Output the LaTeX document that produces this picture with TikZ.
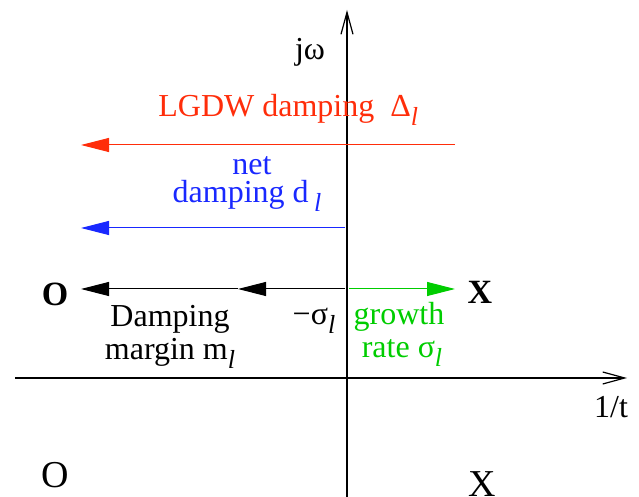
\documentclass[tikz,border=0pt]{standalone}
\usepackage{fontspec}
\setmainfont{Liberation Serif}
\definecolor{lgdwred}{RGB}{255,45,10}
\definecolor{netblue}{RGB}{25,40,255}
\definecolor{growgreen}{RGB}{0,205,0}
\usetikzlibrary{arrows.meta}
\newcommand{\lsub}{\raisebox{-0.55ex}{\fontsize{13}{13}\selectfont\itshape l}}

\begin{document}
\begin{tikzpicture}[x=0.5pt,y=-0.5pt,
  lbl/.style={font=\fontsize{16}{17}\selectfont,inner sep=0pt,anchor=base},
  vec/.style={-{Triangle[length=14pt,width=7pt]},line width=0.5pt},
  axis/.style={-{Straight Barb[length=11pt,width=6pt]},line width=0.6pt}]
  \useasboundingbox (0,0) rectangle (639,497);
  % axes
  \coordinate (xl) at (15,378);
  \coordinate (xr) at (627,378);
  \coordinate (yb) at (347,497);
  \coordinate (yt) at (347,10);
  \draw[axis] (xl) -- (xr);
  \draw[axis] (yb) -- (yt);
  \node[lbl] (jw) at (310,60) {jω};
  \node[lbl] (inv) at (611,418) {1/t};
  % damping arrows
  \coordinate (r0) at (455,145);
  \coordinate (r1) at (81,145);
  \coordinate (b0) at (345,228);
  \coordinate (b1) at (81,228);
  \coordinate (k0) at (345,289);
  \coordinate (ks) at (238,289);
  \coordinate (k1) at (81,289);
  \coordinate (g0) at (349,289);
  \coordinate (g1) at (455,289);
  \draw[vec,lgdwred] (r0) -- (r1);
  \draw[vec,netblue] (b0) -- (b1);
  \draw[vec] (k0) -- (ks);
  \draw[vec] (ks) -- (k1);
  \draw[vec,growgreen] (g0) -- (g1);
  % labels
  \node[lbl,text=lgdwred,anchor=base west] (lgdw) at (158,117) {LGDW damping\ \ Δ\lsub};
  \node[lbl,text=netblue] (net1) at (252,175) {net};
  \node[lbl,text=netblue] (net2) at (247,203) {damping d\,\lsub};
  \node[lbl] (dmp1) at (170,327) {Damping};
  \node[lbl] (dmp2) at (170,360) {margin m\lsub};
  \node[lbl] (msig) at (314,325) {−σ\lsub};
  \node[lbl,text=growgreen] (gr1) at (399,325) {growth};
  \node[lbl,text=growgreen] (gr2) at (402,358) {rate σ\lsub};
  % poles and zeros
  \node[font=\fontsize{17}{17}\selectfont\bfseries,inner sep=0pt] (o1) at (55,294) {O};
  \node[font=\fontsize{17}{17}\selectfont\bfseries,inner sep=0pt] (x1) at (480,292) {X};
  \node[font=\fontsize{19}{19}\selectfont,inner sep=0pt] (o2) at (55,475) {O};
  \node[font=\fontsize{19}{19}\selectfont,inner sep=0pt] (x2) at (482,484) {X};
\end{tikzpicture}
\end{document}
